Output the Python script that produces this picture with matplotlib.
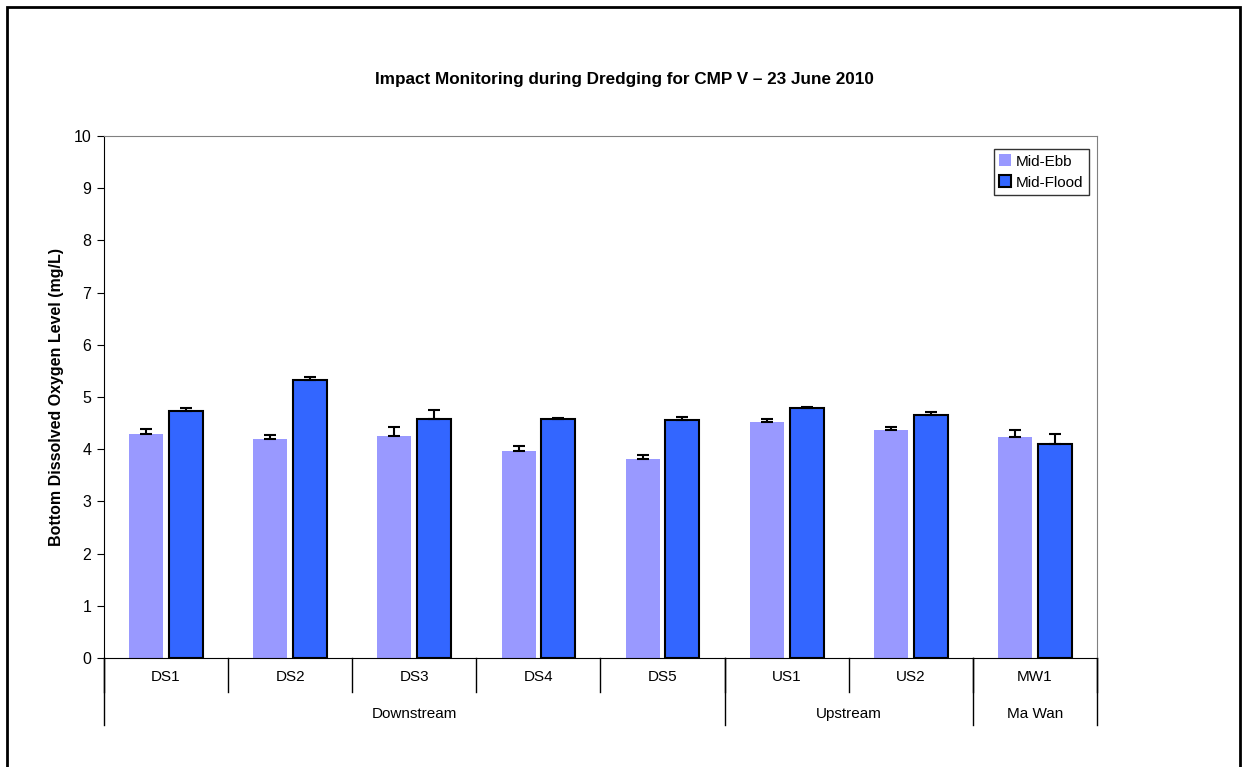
import numpy as np
import matplotlib
matplotlib.use("Agg")
import matplotlib.pyplot as plt
from matplotlib.patches import Rectangle

plt.rcParams["font.family"] = ["Liberation Sans", "DejaVu Sans"]

# Data
sites = ["DS1", "DS2", "DS3", "DS4", "DS5", "US1", "US2", "MW1"]
groups = ["Downstream", "Upstream", "Ma Wan"]
group_sizes = [5, 2, 1]
ebb = [4.30, 4.19, 4.25, 3.97, 3.81, 4.52, 4.37, 4.23]
flood = [4.74, 5.33, 4.58, 4.58, 4.56, 4.79, 4.66, 4.10]
ebb_err = [0.09, 0.09, 0.18, 0.10, 0.08, 0.05, 0.06, 0.13]
flood_err = [0.04, 0.06, 0.17, 0.02, 0.06, 0.01, 0.06, 0.20]

fig = plt.figure(figsize=(12.44, 7.67), dpi=100)
ax = fig.add_axes([0.0836, 0.1421, 0.7982, 0.6806])

x = np.arange(len(sites))
w = 0.274
zeros = np.zeros(len(sites))
ax.bar(x - 0.16, ebb, w, color="#9999FF", label="Mid-Ebb",
       yerr=[zeros, ebb_err], error_kw=dict(ecolor="black", elinewidth=1.5, capsize=4, capthick=1.5))
ax.bar(x + 0.16, flood, w, color="#3366FF", edgecolor="black", linewidth=1.5, label="Mid-Flood",
       yerr=[zeros, flood_err], error_kw=dict(ecolor="black", elinewidth=1.5, capsize=4, capthick=1.5))

ax.set_xlim(-0.5, len(sites) - 0.5)
ax.set_ylim(0, 10)
ax.set_yticks(range(0, 11))
ax.tick_params(axis="y", direction="out", length=5, labelsize=11.5, color="black", pad=4)
ax.set_xticks([])
ax.spines["top"].set_color("#808080")
ax.spines["right"].set_color("#808080")
ax.spines["left"].set_color("black")
ax.spines["bottom"].set_color("black")

ax.set_ylabel("Bottom Dissolved Oxygen Level (mg/L)", fontsize=11.5, fontweight="bold", labelpad=7)

# Two-level category axis
trans = ax.get_xaxis_transform()
for b in np.arange(len(sites) + 1) - 0.5:
    ax.plot([b, b], [0, -0.065], color="black", lw=1, transform=trans, clip_on=False)
for i, s in enumerate(sites):
    ax.text(i, -0.036, s, ha="center", va="center", fontsize=11, transform=trans)

start = 0
bounds = [-0.5]
for g, n in zip(groups, group_sizes):
    ax.text(start + (n - 1) / 2, -0.107, g, ha="center", va="center", fontsize=11, transform=trans)
    start += n
    bounds.append(start - 0.5)
for b in bounds:
    ax.plot([b, b], [0, -0.128], color="black", lw=1, transform=trans, clip_on=False)

leg = ax.legend(loc="upper right", bbox_to_anchor=(0.9915, 0.975), fontsize=11, frameon=True,
                fancybox=False, edgecolor="black", handlelength=0.8, handleheight=0.8,
                handletextpad=0.3, borderpad=0.35, labelspacing=0.45, borderaxespad=0)
leg.get_frame().set_linewidth(1)

fig.text(0.5016, 0.897, "Impact Monitoring during Dredging for CMP V \u2013 23 June 2010",
         ha="center", va="center", fontsize=12.3, fontweight="bold")

# Outer chart border
fig.patches.append(Rectangle((7 / 1244, -0.05), 1233 / 1244, 1.05 - 7 / 767, transform=fig.transFigure,
                             fill=False, edgecolor="black", linewidth=2))

fig.savefig("out.png", dpi=100)
